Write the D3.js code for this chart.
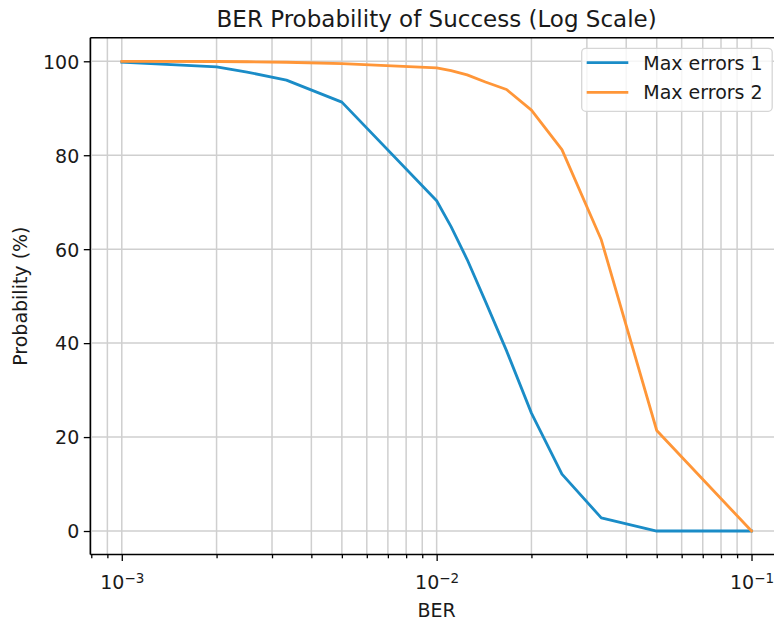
<!DOCTYPE html>
<html>
<head>
<meta charset="utf-8">
<script src="https://cdn.jsdelivr.net/npm/d3@7"></script>
<style>
  html, body { margin: 0; padding: 0; background: #fff; }
  svg { display: block; }
  text { font-family: "DejaVu Sans", sans-serif; fill: #1a1a1a; }
</style>
</head>
<body>
<div id="chart"></div>
<script>
// Bit error rates tested (1/1000 ... 1/10)
const ber = [1/1000, 1/500, 1/400, 1/300, 1/200, 1/100, 1/90, 1/80, 1/70, 1/60, 1/50, 1/40, 1/30, 1/20, 1/10];

// Probability of success (%) for each error budget
const maxErrors1 = [99.8, 98.8, 97.7, 96.0, 91.3, 70.3, 64.8, 57.8, 48.9, 38.4, 25.1, 12.1, 2.8, 0, 0];
const maxErrors2 = [100, 99.95, 99.9, 99.8, 99.5, 98.6, 98.0, 97.1, 95.6, 94.0, 89.6, 81.2, 62.0, 21.4, 0];

const seriesNames = ["Max errors 1", "Max errors 2"];
const seriesColors = ["#1a8cc7", "#ff9638"];

// Axis ticks
const xMajorTicks = [1e-3, 1e-2, 1e-1];
const xMinorTicks = [8e-4, 9e-4,
  2e-3, 3e-3, 4e-3, 5e-3, 6e-3, 7e-3, 8e-3, 9e-3,
  2e-2, 3e-2, 4e-2, 5e-2, 6e-2, 7e-2, 8e-2, 9e-2];
const yTicks = [0, 20, 40, 60, 80, 100];

const W = 774, H = 621;
const plot = { left: 90.3, right: 783, top: 37.8, bottom: 554.5 };

const svg = d3.select("#chart").append("svg")
  .attr("width", W).attr("height", H);

const x = d3.scaleLog()
  .domain([Math.pow(10, -3.1), Math.pow(10, -0.9)])
  .range([plot.left, plot.right]);
const y = d3.scaleLinear()
  .domain([-5, 105])
  .range([plot.bottom, plot.top]);

const gridColor = "#cfcfcf";

// Grid: vertical lines at major and minor x ticks, horizontal at y ticks
const grid = svg.append("g");
grid.selectAll("line.vx")
  .data(xMajorTicks.concat(xMinorTicks))
  .join("line")
  .attr("x1", d => x(d)).attr("x2", d => x(d))
  .attr("y1", plot.top).attr("y2", plot.bottom)
  .attr("stroke", gridColor).attr("stroke-width", 1.5);
grid.selectAll("line.hy")
  .data(yTicks)
  .join("line")
  .attr("x1", plot.left).attr("x2", plot.right)
  .attr("y1", d => y(d)).attr("y2", d => y(d))
  .attr("stroke", gridColor).attr("stroke-width", 1.5);

// Series lines
const series = [maxErrors1, maxErrors2];
const line = d3.line()
  .x(d => x(d[0]))
  .y(d => y(d[1]));
svg.append("g").selectAll("path")
  .data(series)
  .join("path")
  .attr("d", vals => line(ber.map((b, i) => [b, vals[i]])))
  .attr("fill", "none")
  .attr("stroke", (d, i) => seriesColors[i])
  .attr("stroke-width", 2.8)
  .attr("stroke-linejoin", "round")
  .attr("stroke-linecap", "square");

// X axis (log) with major and minor ticks
const xAxisMajor = d3.axisBottom(x)
  .tickValues(xMajorTicks)
  .tickSize(6.5).tickPadding(4)
  .tickFormat(() => "");
const gxMajor = svg.append("g")
  .attr("transform", `translate(0,${plot.bottom})`)
  .call(xAxisMajor);
const gxMinor = svg.append("g")
  .attr("transform", `translate(0,${plot.bottom})`)
  .call(d3.axisBottom(x).tickValues(xMinorTicks).tickSize(3.8).tickFormat(() => ""));
[gxMajor, gxMinor].forEach(g => {
  g.select(".domain").remove();
  g.selectAll(".tick line").attr("stroke", "#000").attr("stroke-width", 1.3);
});

// Power-of-ten labels for the major x ticks
gxMajor.selectAll(".tick").each(function (d) {
  const exp = Math.round(Math.log10(d));
  const t = d3.select(this).append("text")
    .attr("y", 34.5)
    .attr("text-anchor", "middle")
    .style("font-size", "19px");
  t.append("tspan").text("10");
  t.append("tspan")
    .attr("dy", "-0.45em")
    .style("font-size", "13.5px")
    .text("\u2212" + Math.abs(exp));
});

// Y axis
const gy = svg.append("g")
  .attr("transform", `translate(${plot.left},0)`)
  .call(d3.axisLeft(y).tickValues(yTicks).tickSize(6.5).tickPadding(4.5));
gy.select(".domain").remove();
gy.selectAll(".tick line").attr("stroke", "#000").attr("stroke-width", 1.3);
gy.selectAll(".tick text")
  .style("font-size", "19px")
  .style("font-family", "DejaVu Sans, sans-serif")
  .attr("fill", "#1a1a1a")
  .attr("dy", "0.36em");

// Spines (right spine falls outside the visible area)
const spines = svg.append("g").attr("stroke", "#000").attr("stroke-width", 1.5);
spines.append("line").attr("x1", plot.left).attr("x2", plot.left)
  .attr("y1", plot.top).attr("y2", plot.bottom);
spines.append("line").attr("x1", plot.left).attr("x2", plot.right)
  .attr("y1", plot.bottom).attr("y2", plot.bottom);
spines.append("line").attr("x1", plot.left).attr("x2", plot.right)
  .attr("y1", plot.top).attr("y2", plot.top);
spines.append("line").attr("x1", plot.right).attr("x2", plot.right)
  .attr("y1", plot.top).attr("y2", plot.bottom);

// Title and axis labels
const cx = (plot.left + plot.right) / 2;
svg.append("text")
  .attr("x", cx).attr("y", 27)
  .attr("text-anchor", "middle")
  .style("font-size", "23px")
  .text("BER Probability of Success (Log Scale)");
svg.append("text")
  .attr("x", cx).attr("y", 617)
  .attr("text-anchor", "middle")
  .style("font-size", "19px")
  .text("BER");
svg.append("text")
  .attr("transform", `translate(26.5,${(plot.top + plot.bottom) / 2}) rotate(-90)`)
  .attr("text-anchor", "middle")
  .style("font-size", "19px")
  .text("Probability (%)");

// Legend
const legend = svg.append("g");
legend.append("rect")
  .attr("x", 581.7).attr("y", 48.3)
  .attr("width", 190.5).attr("height", 63)
  .attr("rx", 4).attr("ry", 4)
  .attr("fill", "#fff").attr("fill-opacity", 0.8)
  .attr("stroke", "#d6d6d6").attr("stroke-width", 1.3);
seriesNames.forEach((name, i) => {
  const ly = 62.7 + i * 29.6;
  legend.append("line")
    .attr("x1", 586.7).attr("x2", 628.3)
    .attr("y1", ly).attr("y2", ly)
    .attr("stroke", seriesColors[i]).attr("stroke-width", 2.8);
  legend.append("text")
    .attr("x", 643.3).attr("y", ly + 7)
    .style("font-size", "19px")
    .text(name);
});
</script>
</body>
</html>
